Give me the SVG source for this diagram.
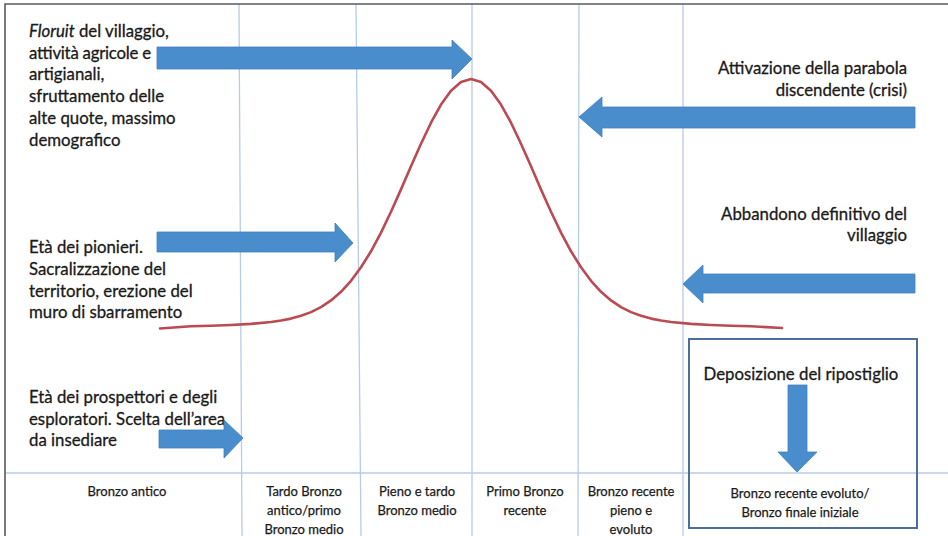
<svg xmlns="http://www.w3.org/2000/svg" width="948" height="536" viewBox="0 0 948 536">
<style>
  .grid { stroke: #b8cbe7; stroke-width: 1.3; fill: none; }
  .frame { stroke: #5a5a5a; stroke-width: 1.6; fill: none; }
  .curve { stroke: #bb4a52; stroke-width: 2.6; fill: none; stroke-linejoin: round; stroke-linecap: round; }
  .arrow { fill: #4a8dcc; stroke: #3f80c0; stroke-width: 0.8; }
  .box { fill: none; stroke: #4d6d9c; stroke-width: 2; }
  .t { font-family: Lato, "Liberation Sans", sans-serif; font-size: 16.8px; fill: #1a1a1a; stroke: #1a1a1a; stroke-width: 0.3; }
  .s { font-family: Lato, "Liberation Sans", sans-serif; font-size: 13px; fill: #1a1a1a; stroke: #1a1a1a; stroke-width: 0.25; text-anchor: middle; }
  .r { text-anchor: end; }
  .m { text-anchor: middle; }
</style>
<rect x="0" y="0" width="948" height="536" fill="#ffffff"/>
<g id="grid">
  <line class="grid" x1="239" y1="4" x2="242" y2="536"/>
  <line class="grid" x1="356" y1="4" x2="361" y2="536"/>
  <line class="grid" x1="472" y1="4" x2="472" y2="536"/>
  <line class="grid" x1="579" y1="4" x2="578" y2="536"/>
  <line class="grid" x1="683" y1="4" x2="683" y2="536"/>
  <line class="grid" x1="5" y1="473" x2="948" y2="473"/>
</g>
<g id="frame">
  <polyline class="frame" points="5,536 5,4 948,4"/>
</g>
<g id="curve">
  <polyline class="curve" points="160,328.5 191,326.3 211,325.8 231,325 251,323.9 271,322 281,320.5 291,318.6 301,315.8 311,312.1 321,307.1 331,300.4 341,291.8 351,280.8 361,267.3 371,251.3 381,232.6 391,211.8 401,189.4 411,166.3 421,143.7 431,122.7 441,104.6 451,90.7 461,82 471,79 481,82 491,90.7 501,104.6 511,122.7 521,143.7 531,166.3 541,189.4 551,211.8 561,232.6 571,251.3 581,267.3 591,280.8 601,291.8 611,300.4 621,307.1 631,312.1 641,315.8 651,318.6 661,320.5 671,322 691,323.9 711,325 731,325.8 751,326.3 782,328"/>
</g>
<g id="node-floruit">
  <text class="t" x="29" y="37"><tspan font-style="italic">Floruit</tspan> del villaggio,</text>
  <text class="t" x="29" y="58.7" textLength="122" lengthAdjust="spacing">attività agricole e</text>
  <text class="t" x="29" y="80.4">artigianali,</text>
  <text class="t" x="29" y="102">sfruttamento delle</text>
  <text class="t" x="29" y="123.8">alte quote, massimo</text>
  <text class="t" x="29" y="145.5">demografico</text>
</g>
<g id="node-crisi">
  <text class="t r" x="907" y="74">Attivazione della parabola</text>
  <text class="t r" x="907" y="96">discendente (crisi)</text>
</g>
<g id="node-pionieri">
  <text class="t" x="29" y="253">Età dei pionieri.</text>
  <text class="t" x="29" y="275">Sacralizzazione del</text>
  <text class="t" x="29" y="297">territorio, erezione del</text>
  <text class="t" x="29" y="318">muro di sbarramento</text>
</g>
<g id="node-abbandono">
  <text class="t r" x="907" y="220">Abbandono definitivo del</text>
  <text class="t r" x="907" y="241">villaggio</text>
</g>
<g id="node-prospettori">
  <text class="t" x="29" y="403">Età dei prospettori e degli</text>
  <text class="t" x="29" y="425">esploratori. Scelta dell’area</text>
  <text class="t" x="29" y="446">da insediare</text>
</g>
<g id="node-ripostiglio">
  <rect class="box" x="689" y="339" width="228" height="189"/>
  <text class="t m" x="801" y="380">Deposizione del ripostiglio</text>
</g>
<g id="period-1">
  <text class="s" x="127" y="496">Bronzo antico</text>
</g>
<g id="period-2">
  <text class="s" x="304" y="496">Tardo Bronzo</text>
  <text class="s" x="304" y="515">antico/primo</text>
  <text class="s" x="304" y="534">Bronzo medio</text>
</g>
<g id="period-3">
  <text class="s" x="417" y="496">Pieno e tardo</text>
  <text class="s" x="417" y="515">Bronzo medio</text>
</g>
<g id="period-4">
  <text class="s" x="525" y="496">Primo Bronzo</text>
  <text class="s" x="525" y="515">recente</text>
</g>
<g id="period-5">
  <text class="s" x="631" y="496">Bronzo recente</text>
  <text class="s" x="631" y="515">pieno e</text>
  <text class="s" x="631" y="534">evoluto</text>
</g>
<g id="period-6">
  <text class="s" x="800" y="498">Bronzo recente evoluto/</text>
  <text class="s" x="800" y="517">Bronzo finale iniziale</text>
</g>
<g id="connectors">
  <polygon class="arrow" points="157,47 452,47 452,40 472,59 452,79 452,69 157,69"/>
  <polygon class="arrow" points="915,107 602,107 602,97 579,117 602,137 602,128 915,128"/>
  <polygon class="arrow" points="157,232 335,232 335,223 353,243 335,262 335,252 157,252"/>
  <polygon class="arrow" points="915,274 703,274 703,265 683,284 703,303 703,293 915,293"/>
  <polygon class="arrow" points="159,430 224,430 224,420 243,438 224,458 224,448 159,448"/>
  <polygon class="arrow" points="788,385 807,385 807,452 817,452 797,472 778,452 788,452"/>
</g>
</svg>
